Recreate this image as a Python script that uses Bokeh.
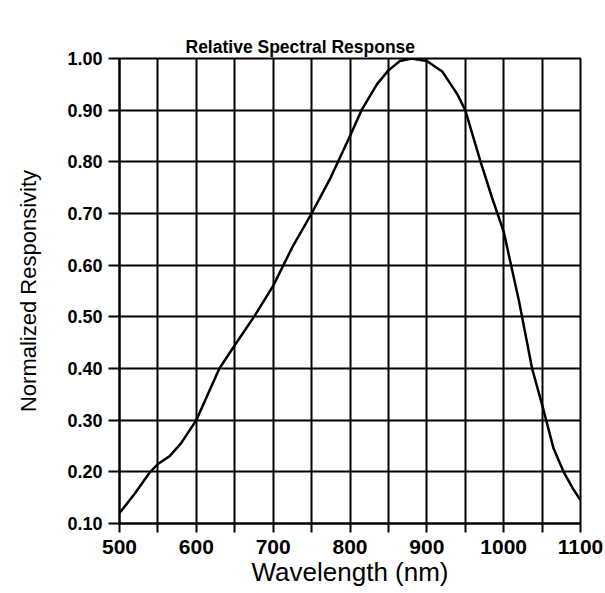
from bokeh.plotting import figure
from bokeh.models import FixedTicker, Range1d, NumeralTickFormatter, Title
from bokeh.embed import file_html
from bokeh.resources import INLINE

# Data
wavelength_nm = [500, 520, 540, 550, 565, 580, 600, 615, 630, 650, 675, 700, 725,
                 750, 775, 800, 815, 835, 850, 865, 880, 900, 920, 940, 950, 970,
                 985, 1000, 1020, 1037, 1050, 1065, 1078, 1090, 1100]
responsivity = [0.12, 0.158, 0.20, 0.215, 0.23, 0.255, 0.30, 0.35, 0.40, 0.445, 0.50,
                0.56, 0.635, 0.70, 0.77, 0.85, 0.90, 0.95, 0.977, 0.995, 1.0, 0.995,
                0.975, 0.93, 0.90, 0.80, 0.73, 0.665, 0.53, 0.40, 0.33, 0.245, 0.20,
                0.168, 0.145]

x_major_ticks = [500, 600, 700, 800, 900, 1000, 1100]
x_minor_ticks = [550, 650, 750, 850, 950, 1050]
y_ticks = [0.1, 0.2, 0.3, 0.4, 0.5, 0.6, 0.7, 0.8, 0.9, 1.0]

TICK_FONT = "Liberation Sans"

p = figure(width=605, height=593, output_backend="svg", toolbar_location=None,
           x_range=Range1d(500, 1100), y_range=Range1d(0.1, 1.0),
           min_border_left=119, min_border_right=25, min_border_top=58,
           min_border_bottom=70)

# built-in title holds a blank space: it acts as a spacer next to the frame
p.title.text = " "
p.title.standoff = 28
p.title.text_font_size = "1px"

# the visible title sits outside the spacer
p.add_layout(Title(text="Relative Spectral Response", align="left", offset=66,
                   standoff=0, vertical_align="top", text_font="Liberation Sans",
                   text_font_size="17.5px", text_font_style="bold",
                   text_color="black"), "above")

p.line(wavelength_nm, responsivity, line_color="black", line_width=2.5)

# x axis
p.xaxis.ticker = FixedTicker(ticks=x_major_ticks, minor_ticks=x_minor_ticks)
p.xaxis.axis_label = "Wavelength (nm)"
p.xaxis.axis_label_text_font = "Liberation Sans"
p.xaxis.axis_label_text_font_size = "26px"
p.xaxis.axis_label_text_font_style = "normal"
p.xaxis.axis_label_standoff = 0
p.xaxis.major_label_text_font = TICK_FONT
p.xaxis.major_label_text_font_style = "bold"
p.xaxis.major_label_text_font_size = "21px"
p.xaxis.major_label_standoff = 7
p.xaxis.major_tick_out = 9
p.xaxis.major_tick_in = 0
p.xaxis.minor_tick_out = 9
p.xaxis.minor_tick_in = 0

# y axis
p.yaxis.ticker = FixedTicker(ticks=y_ticks)
p.yaxis.formatter = NumeralTickFormatter(format="0.00")
p.yaxis.axis_label = "Normalized Responsivity"
p.yaxis.axis_label_text_font = "Liberation Sans"
p.yaxis.axis_label_text_font_size = "22px"
p.yaxis.axis_label_text_font_style = "normal"
p.yaxis.axis_label_standoff = 23
p.yaxis.major_label_text_font = TICK_FONT
p.yaxis.major_label_text_font_style = "bold"
p.yaxis.major_label_text_font_size = "18px"
p.yaxis.major_label_standoff = 6
p.yaxis.major_tick_out = 11
p.yaxis.major_tick_in = 0
p.yaxis.minor_tick_line_color = None

for ax in (p.xaxis, p.yaxis):
    ax.axis_line_color = "black"
    ax.axis_line_width = 2
    ax.major_tick_line_color = "black"
    ax.major_tick_line_width = 2
    ax.major_label_text_color = "black"
    ax.axis_label_text_color = "black"
p.xaxis.minor_tick_line_color = "black"
p.xaxis.minor_tick_line_width = 2

p.xgrid.ticker = FixedTicker(ticks=x_major_ticks, minor_ticks=x_minor_ticks)
p.xgrid.grid_line_color = "black"
p.xgrid.grid_line_width = 2
p.xgrid.minor_grid_line_color = "black"
p.xgrid.minor_grid_line_width = 2
p.ygrid.ticker = FixedTicker(ticks=y_ticks)
p.ygrid.grid_line_color = "black"
p.ygrid.grid_line_width = 2

p.outline_line_color = "black"
p.outline_line_width = 2
p.outline_line_alpha = 1

open("out.html", "w").write(file_html(p, INLINE))
